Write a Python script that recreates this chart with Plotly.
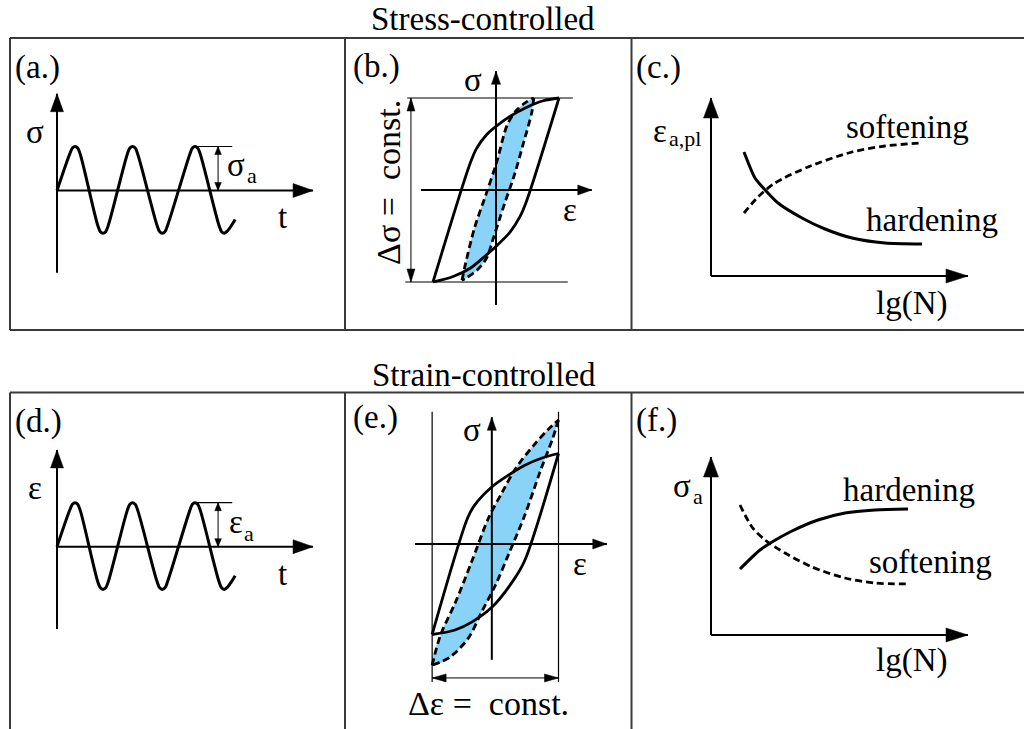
import math
import plotly.graph_objects as go

W, H = 1024, 729
SERIF = "Liberation Serif, Times New Roman, serif"
BLUE = "#89d2f8"
INK = "#000000"
FRAME = "#3a3a3a"
FS = 33
FS_SUB = 22

# ---------------- data ----------------
# (a)/(d) load history: time in cycles, value normalised by the amplitude
wave_t = [0.00, 0.23, 0.265, 0.305, 0.35, 0.395,
          0.69, 0.735, 0.78, 0.825, 0.87,
          1.19, 1.235, 1.28, 1.325, 1.37,
          1.695, 1.74, 1.785, 1.83, 1.875,
          2.25, 2.295, 2.34, 2.385, 2.43,
          2.745, 2.79, 2.835, 2.895, 2.955, 3.02]
wave_v = [0.00, 0.88, 0.97, 1.00, 0.965, 0.82,
          -0.79, -0.935, -0.97, -0.935, -0.79,
          0.82, 0.965, 1.00, 0.965, 0.82,
          -0.79, -0.935, -0.97, -0.935, -0.79,
          0.82, 0.965, 1.00, 0.965, 0.82,
          -0.79, -0.935, -0.97, -0.91, -0.80, -0.66]

# (b) stress-controlled hysteresis (strain, stress normalised by loop tips)
b_solid_up_eps = [-1.00, -0.41, -0.31, -0.15, -0.02, 0.22, 0.49, 0.75, 1.00]
b_solid_up_sig = [-1.00, 0.29, 0.45, 0.60, 0.68, 0.80, 0.90, 0.97, 1.00]
b_solid_dn_eps = [1.00, 0.48, 0.38, 0.22, 0.02, -0.21, -0.41, -0.68, -1.00]
b_solid_dn_sig = [1.00, -0.13, -0.29, -0.46, -0.60, -0.74, -0.85, -0.94, -1.00]
b_dash_up_eps = [-0.54, -0.49, -0.34, -0.16, 0.01, 0.18, 0.33, 0.49, 0.60]
b_dash_up_sig = [-0.98, -0.82, -0.41, -0.05, 0.30, 0.71, 0.87, 0.96, 1.00]
b_dash_dn_eps = [0.60, 0.57, 0.44, 0.29, 0.13, -0.04, -0.15, -0.30, -0.46, -0.54]
b_dash_dn_sig = [1.00, 0.85, 0.52, 0.16, -0.16, -0.52, -0.74, -0.87, -0.95, -0.98]

# (c) plastic strain amplitude vs lg(N)
c_n_hard = [0.33, 0.44, 0.56, 0.67, 0.91, 1.14, 1.41, 1.74, 2.11]
c_v_hard = [1.24, 0.98, 0.84, 0.73, 0.58, 0.47, 0.38, 0.33, 0.32]
c_n_soft = [0.33, 0.47, 0.64, 0.97, 1.41, 1.74, 2.11]
c_v_soft = [0.63, 0.79, 0.93, 1.09, 1.24, 1.30, 1.33]

# (e) strain-controlled hysteresis
e_solid_up_eps = [-0.99, -0.43, -0.32, -0.05, 0.21, 0.47, 0.74, 1.00]
e_solid_up_sig = [-1.00, 0.29, 0.43, 0.63, 0.76, 0.87, 0.95, 1.00]
e_solid_dn_eps = [1.00, 0.47, 0.31, -0.05, -0.36, -0.63, -0.99]
e_solid_dn_sig = [1.00, -0.18, -0.38, -0.70, -0.86, -0.95, -1.00]
e_dash_up_eps = [-0.99, -0.86, -0.62, -0.37, -0.10, 0.12, 0.33, 0.61, 0.83, 1.00]
e_dash_up_sig = [-1.34, -1.01, -0.64, -0.20, 0.29, 0.58, 0.84, 1.09, 1.26, 1.37]
e_dash_dn_eps = [1.00, 0.91, 0.71, 0.47, 0.21, 0.01, -0.21, -0.42, -0.71, -0.99]
e_dash_dn_sig = [1.37, 1.17, 0.80, 0.32, -0.12, -0.45, -0.75, -1.04, -1.25, -1.34]

# (f) stress amplitude vs lg(N)
f_n_hard = [0.29, 0.49, 0.61, 0.81, 1.07, 1.34, 1.64, 1.97]
f_v_hard = [0.66, 0.85, 0.93, 1.04, 1.15, 1.22, 1.25, 1.26]
f_n_soft = [0.29, 0.41, 0.54, 0.74, 1.01, 1.34, 1.64, 1.99]
f_v_soft = [1.30, 1.08, 0.95, 0.82, 0.68, 0.57, 0.52, 0.51]

# ---------------- panel geometry (pixels) ----------------
# box (left, top, right, bottom), origin pixel, pixels per data unit
PANELS = {
    1: dict(box=(10, 38, 345, 330), org=(57, 190.5), sc=(59, 44)),
    2: dict(box=(345, 38, 631.5, 330), org=(496, 190), sc=(63, 92)),
    3: dict(box=(631.5, 38, 1024, 330), org=(711, 276), sc=(100, 100)),
    4: dict(box=(10, 392.5, 345, 729), org=(57, 546.7), sc=(59, 44)),
    5: dict(box=(345, 392.5, 631.5, 729), org=(495, 544), sc=(63.5, 90.5)),
    6: dict(box=(631.5, 392.5, 1024, 729), org=(711, 635), sc=(100, 100)),
}

fig = go.Figure()
layout_axes = {}
shapes = []
annotations = []


def refs(i):
    return ("x" if i == 1 else f"x{i}"), ("y" if i == 1 else f"y{i}")


def px2data(i, px, py):
    ox, oy = PANELS[i]["org"]
    sx, sy = PANELS[i]["sc"]
    return (px - ox) / sx, (oy - py) / sy


for i, p in PANELS.items():
    l, t, r, b = p["box"]
    xn = "xaxis" if i == 1 else f"xaxis{i}"
    yn = "yaxis" if i == 1 else f"yaxis{i}"
    xr, yr = refs(i)
    x0, y0 = px2data(i, l, b)
    x1, y1 = px2data(i, r, t)
    layout_axes[xn] = dict(domain=[l / W, r / W], range=[x0, x1],
                           visible=False, fixedrange=True, anchor=yr)
    layout_axes[yn] = dict(domain=[1 - b / H, 1 - t / H], range=[y0, y1],
                           visible=False, fixedrange=True, anchor=xr)


def line(i, x, y, width=3, dash=None, shape="spline", smooth=1.0, color=INK):
    xr, yr = refs(i)
    ln = dict(color=color, width=width, shape=shape)
    if shape == "spline":
        ln["smoothing"] = smooth
    if dash:
        ln["dash"] = dash
    fig.add_trace(go.Scatter(x=x, y=y, xaxis=xr, yaxis=yr, mode="lines", line=ln,
                             hoverinfo="skip", showlegend=False))


def fill(i, x, y):
    xr, yr = refs(i)
    fig.add_trace(go.Scatter(x=x, y=y, xaxis=xr, yaxis=yr, mode="lines", fill="toself",
                             fillcolor=BLUE, line=dict(width=0, shape="spline", smoothing=1.0),
                             hoverinfo="skip", showlegend=False))


def head(i, xt, yt, dxp, dyp, length, half):
    """Filled arrow head (length/half-width in px) with its tip at data point (xt, yt)."""
    sx, sy = PANELS[i]["sc"]
    xr, yr = refs(i)
    n = math.hypot(dxp, dyp)
    ux, uy = dxp / n, dyp / n
    bx, by = -ux * length, -uy * length
    px_, py_ = -uy * half, ux * half
    pts = [(xt, yt),
           (xt + (bx + px_) / sx, yt + (by + py_) / sy),
           (xt + (bx - px_) / sx, yt + (by - py_) / sy)]
    path = "M " + " L ".join(f"{a:.5f},{c:.5f}" for a, c in pts) + " Z"
    shapes.append(dict(type="path", path=path, xref=xr, yref=yr, fillcolor=INK,
                       line=dict(color=INK, width=0.5), layer="above"))


def arrow(i, x0, y0, x1, y1, width=2, length=18, half=7, both=False):
    sx, sy = PANELS[i]["sc"]
    dxp, dyp = (x1 - x0) * sx, (y1 - y0) * sy
    line(i, [x0, x1], [y0, y1], width=width, shape="linear")
    head(i, x1, y1, dxp, dyp, length, half)
    if both:
        head(i, x0, y0, -dxp, -dyp, length, half)


def label(i, x, y, text, size=FS, xanchor="center", angle=0):
    xr, yr = refs(i)
    annotations.append(dict(x=x, y=y, xref=xr, yref=yr, text=text, showarrow=False,
                            xanchor=xanchor, yanchor="middle", textangle=angle,
                            font=dict(family=SERIF, size=size, color=INK)))


def plabel(i, px, py, text, xanchor="left", size=FS):
    """Label placed at a pixel spot, expressed through panel i's own axes."""
    x, y = px2data(i, px, py)
    label(i, x, y, text, size=size, xanchor=xanchor)


def ptext(px, py, text, xanchor="center", size=FS):
    annotations.append(dict(x=px / W, y=1 - py / H, xref="paper", yref="paper", text=text,
                            showarrow=False, xanchor=xanchor, yanchor="middle",
                            font=dict(family=SERIF, size=size, color=INK)))


def symsub(i, px, py, sym, spx, spy, sub):
    """Symbol with a subscript, each drawn as its own text."""
    plabel(i, px, py, sym, size=FS)
    plabel(i, spx, spy, sub, size=FS_SUB)


# ---- (a) and (d): load signal ----
for i, sym in ((1, "σ"), (4, "ε")):
    arrow(i, 0, -1.87, 0, 2.2, width=2, length=18, half=6.5)
    arrow(i, 0, 0, 4.34, 0, width=2, length=20, half=7)
    line(i, wave_t, wave_v, width=3, smooth=1.0)
    line(i, [2.34, 2.97], [1.0, 1.0], width=1.2, shape="linear")
    arrow(i, 2.73, 0.0, 2.73, 1.0, width=1, length=8, half=3.3, both=True)
    label(i, -0.38, 1.34, sym)
    label(i, 3.83, -0.61, "t")
symsub(1, 225, 164.7, "σ", 244.5, 175.8, "a")
symsub(4, 227, 521.7, "ε", 242, 533.8, "a")

# ---- (b) stress-controlled loop ----
fill(2, b_dash_up_eps + b_dash_dn_eps, b_dash_up_sig + b_dash_dn_sig)
line(2, [-1.41, 1.22], [1.0, 1.0], width=1.2, shape="linear")
line(2, [-1.44, 1.14], [-1.0, -1.0], width=1.2, shape="linear")
arrow(2, -1.35, -1.0, -1.35, 1.0, width=1, length=13, half=4, both=True)
arrow(2, 0, -1.25, 0, 1.29, width=2, length=13, half=4.5)
arrow(2, -1.19, 0, 1.52, 0, width=2, length=14, half=5)
line(2, b_solid_up_eps, b_solid_up_sig, width=2.8, smooth=0.9)
line(2, b_solid_dn_eps, b_solid_dn_sig, width=2.8, smooth=0.9)
line(2, b_dash_up_eps, b_dash_up_sig, width=2.8, dash="7px,4px", smooth=0.9)
line(2, b_dash_dn_eps, b_dash_dn_sig, width=2.8, dash="7px,4px", smooth=0.9)
label(2, -0.37, 1.2, "σ")
label(2, 1.17, -0.22, "ε")
label(2, -1.71, 0.08, "Δσ =\u2002const.", size=34, angle=-90)

# ---- (c) ----
arrow(3, 0, 0, 0, 1.78, width=2, length=20, half=7.5)
arrow(3, 0, 0, 2.57, 0, width=2, length=22, half=7)
line(3, c_n_hard, c_v_hard, width=3, smooth=0.6)
line(3, c_n_soft, c_v_soft, width=2.8, dash="7px,4px", smooth=0.8)
symsub(3, 651, 130.7, "ε", 667, 138.8, "a,pl")
label(3, 1.96, 1.49, "softening")
label(3, 2.21, 0.56, "hardening")
label(3, 2.00, -0.27, "lg(N)")

# ---- (e) strain-controlled loop ----
fill(5, e_dash_up_eps + e_dash_dn_eps, e_dash_up_sig + e_dash_dn_sig)
line(5, [-0.99, -0.99], [-1.525, 1.46], width=1.2, shape="linear")
line(5, [1.0, 1.0], [-1.525, 1.46], width=1.2, shape="linear")
arrow(5, -0.99, -1.48, 1.0, -1.48, width=1, length=14, half=4, both=True)
arrow(5, -0.05, -1.28, -0.05, 1.40, width=2, length=13, half=4.5)
arrow(5, -1.26, 0, 1.76, 0, width=2, length=14, half=5)
line(5, e_solid_up_eps, e_solid_up_sig, width=2.8, smooth=0.9)
line(5, e_solid_dn_eps, e_solid_dn_sig, width=2.8, smooth=0.9)
line(5, e_dash_up_eps, e_dash_up_sig, width=2.8, dash="7px,4px", smooth=0.9)
line(5, e_dash_dn_eps, e_dash_dn_sig, width=2.8, dash="7px,4px", smooth=0.9)
label(5, -0.36, 1.26, "σ")
label(5, 1.34, -0.22, "ε")
label(5, -0.11, -1.76, "Δε =\u2002const.", size=34)

# ---- (f) ----
arrow(6, 0, 0, 0, 1.78, width=2, length=20, half=7.5)
arrow(6, 0, 0, 2.57, 0, width=2, length=22, half=7)
line(6, f_n_hard, f_v_hard, width=3, smooth=0.8)
line(6, f_n_soft, f_v_soft, width=2.8, dash="7px,4px", smooth=0.8)
symsub(6, 671, 485.7, "σ", 691, 496.8, "a")
label(6, 1.98, 1.45, "hardening")
label(6, 2.19, 0.73, "softening")
label(6, 2.00, -0.25, "lg(N)")

# ---- panel letters and row titles ----
for (i, px, py, txt) in ((1, 13, 67, "(a.)"), (2, 351, 66, "(b.)"), (3, 634, 67, "(c.)"),
                         (4, 13, 421, "(d.)"), (5, 351, 417, "(e.)"), (6, 634, 420, "(f.)")):
    plabel(i, px, py, txt)
ptext(482.5, 19, "Stress-controlled")
ptext(484, 375, "Strain-controlled")


# ---- frames ----
def seg(x0, y0, x1, y1):
    shapes.append(dict(type="line", xref="paper", yref="paper", x0=x0 / W, y0=1 - y0 / H,
                       x1=x1 / W, y1=1 - y1 / H, line=dict(color=FRAME, width=2)))


seg(10, 38, 1024, 38)
seg(10, 330, 1024, 330)
for xv in (10, 345, 631.5):
    seg(xv, 38, xv, 330)
seg(10, 392.5, 1024, 392.5)
for xv in (10, 345, 631.5):
    seg(xv, 392.5, xv, 729)

fig.update_layout(width=W, height=H, margin=dict(l=0, r=0, t=0, b=0),
                  paper_bgcolor="white", plot_bgcolor="rgba(0,0,0,0)",
                  showlegend=False, annotations=annotations, shapes=shapes,
                  **layout_axes)
fig.write_html("out.html")
